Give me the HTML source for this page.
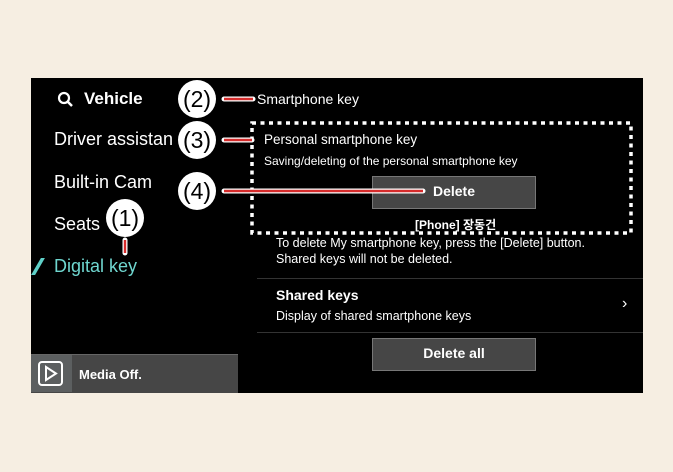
<!DOCTYPE html>
<html><head><style>
body{margin:0;width:673px;height:472px;background:#f6eee2;position:relative;overflow:hidden;font-family:"Liberation Sans","Noto Sans CJK KR",sans-serif;}
.a{position:absolute;white-space:nowrap;color:#fff}
</style></head><body>
<div style="position:absolute;left:31px;top:78px;width:612px;height:315px;background:#000"></div>
<svg style="position:absolute;left:57px;top:91px" width="20" height="20"><circle cx="7" cy="7" r="5" stroke="#fff" stroke-width="2.2" fill="none"/><line x1="11" y1="11" x2="15" y2="15" stroke="#fff" stroke-width="2.5"/></svg>
<div class="a" style="left:84px;top:89px;font-size:17px;font-weight:bold">Vehicle</div>
<div class="a" style="left:54px;top:129px;font-size:18px">Driver assistan</div>
<div class="a" style="left:54px;top:172px;font-size:18px">Built-in Cam</div>
<div class="a" style="left:54px;top:214px;font-size:18px">Seats</div>
<div style="position:absolute;left:36px;top:258px;width:4px;height:17px;background:#5fd0c8;transform:skewX(-30deg)"></div>
<div class="a" style="left:54px;top:256px;font-size:18px;color:#6fd6cf">Digital key</div>
<div style="position:absolute;left:31px;top:354px;width:207px;height:38px;background:#464646;border-top:1px solid #666"></div>
<div style="position:absolute;left:31px;top:355px;width:41px;height:37px;background:#5c5f60"></div>
<svg style="position:absolute;left:38px;top:361px" width="26" height="26"><rect x="1" y="1" width="23" height="23" rx="3" fill="none" stroke="#fff" stroke-width="2"/><path d="M8 6 L18 12.5 L8 19 Z" fill="none" stroke="#fff" stroke-width="2"/></svg>
<div class="a" style="left:79px;top:367px;font-size:13px;font-weight:bold">Media Off.</div>
<div class="a" style="left:257px;top:91px;font-size:14px">Smartphone key</div>
<div class="a" style="left:264px;top:132px;font-size:13.5px">Personal smartphone key</div>
<div class="a" style="left:264px;top:154px;font-size:12px">Saving/deleting of the personal smartphone key</div>
<div style="position:absolute;left:372px;top:176px;width:162px;height:31px;background:#464646;border:1px solid #777"></div>
<div class="a" style="left:372px;top:183px;width:164px;text-align:center;font-size:14px;font-weight:bold">Delete</div>
<div class="a" style="left:415px;top:216px;font-size:12px;font-weight:bold">[Phone] 장동건</div>
<div class="a" style="left:276px;top:236px;font-size:12.5px">To delete My smartphone key, press the [Delete] button.</div>
<div class="a" style="left:276px;top:252px;font-size:12.5px">Shared keys will not be deleted.</div>
<div style="position:absolute;left:257px;top:278px;width:386px;height:1px;background:#333"></div>
<div class="a" style="left:276px;top:287px;font-size:14px;font-weight:bold">Shared keys</div>
<div class="a" style="left:276px;top:309px;font-size:12.5px">Display of shared smartphone keys</div>
<div class="a" style="left:622px;top:295px;font-size:16px">&#x203A;</div>
<div style="position:absolute;left:257px;top:332px;width:386px;height:1px;background:#333"></div>
<div style="position:absolute;left:372px;top:338px;width:162px;height:31px;background:#464646;border:1px solid #777"></div>
<div class="a" style="left:372px;top:345px;width:164px;text-align:center;font-size:14px;font-weight:bold">Delete all</div>
<svg style="position:absolute;left:0;top:0" width="673" height="472">
<rect x="252" y="123" width="379" height="110" fill="none" stroke="#fff" stroke-width="3.5" stroke-dasharray="4 4.5"/>
<g stroke="#fff" stroke-width="5" stroke-linecap="round">
<line x1="224" y1="99" x2="253" y2="99"/><line x1="224" y1="140" x2="252" y2="140"/><line x1="224" y1="191" x2="423" y2="191"/><line x1="125" y1="240" x2="125" y2="253"/></g>
<g stroke="#d62b2b" stroke-width="2.4">
<line x1="224" y1="99" x2="253" y2="99"/><line x1="224" y1="140" x2="252" y2="140"/><line x1="224" y1="191" x2="423" y2="191"/><line x1="125" y1="240" x2="125" y2="253"/></g>
<g fill="#fff"><circle cx="197" cy="99" r="19"/><circle cx="197" cy="140" r="19"/><circle cx="197" cy="191" r="19"/><circle cx="125" cy="218" r="19"/></g>
<g font-family="Liberation Sans" font-size="23" fill="#000" text-anchor="middle">
<text x="197" y="107">(2)</text><text x="197" y="148">(3)</text><text x="197" y="199">(4)</text><text x="125" y="226">(1)</text></g>
</svg>
</body></html>
